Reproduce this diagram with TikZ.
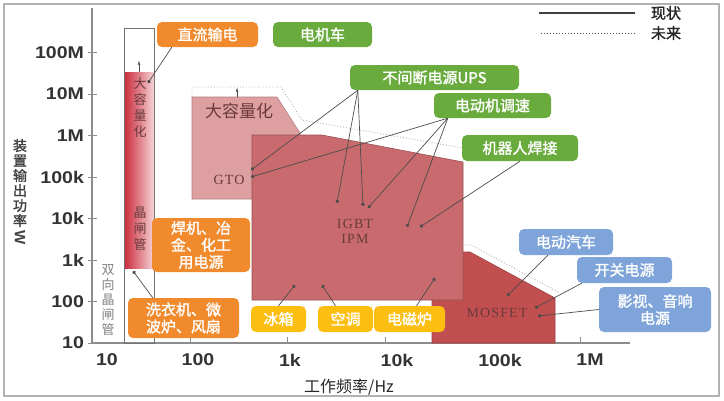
\documentclass[tikz,border=0pt]{standalone}
\usepackage{fontspec}
\setmainfont{Liberation Sans}
\newfontfamily\cjk{Noto Sans CJK SC}[AutoFakeBold=1.5]
\newfontfamily\chartserif{Liberation Serif}[LetterSpace=8]
\usetikzlibrary{arrows.meta}

\definecolor{boxorange}{HTML}{F08A2C}
\definecolor{boxgreen}{HTML}{6AAB3E}
\definecolor{boxyellow}{HTML}{FDBE12}
\definecolor{boxblue}{HTML}{7EA4D9}
\definecolor{gtofill}{HTML}{DE9FA1}
\definecolor{igbtfill}{HTML}{C96B6E}
\definecolor{mosfill}{HTML}{C24F4F}
\definecolor{thydark}{HTML}{C92A3A}
\definecolor{thylight}{HTML}{F6D3D7}
\definecolor{chartink}{HTML}{6B3A3A}
\definecolor{axisgray}{HTML}{8C8C8C}

\begin{document}
\begin{tikzpicture}[x=1pt,y=-1pt,
	appbox/.style={rounded corners=5pt,text=white,align=center,inner sep=0pt,font=\cjk\bfseries\fontsize{15}{17}\selectfont},
	orangebox/.style={appbox,fill=boxorange},
	greenbox/.style={appbox,fill=boxgreen},
	yellowbox/.style={appbox,fill=boxyellow},
	bluebox/.style={appbox,fill=boxblue},
	pointer/.style={draw=black!70,line width=0.7pt,-{Circle[length=3.5pt]}},
	ticklabel/.style={text=black!80,xscale=1.15,font=\bfseries\fontsize{17}{17}\selectfont},
	vtext/.style={align=center,inner sep=0pt,text=chartink,font=\cjk\fontsize{13}{16}\selectfont},
	devlabel/.style={text=chartink,inner sep=0pt,align=center,font=\chartserif\fontsize{14}{15}\selectfont},
	future/.style={draw=gray!60,dotted,line width=0.9pt},
	region/.style={line width=0.6pt}]
	\useasboundingbox (0,0) rectangle (724,400);
	\draw[gray!60,line width=1.5pt] (4,4) rectangle (719,396);

	% axes
	\draw[axisgray,line width=1.2pt] (92,8) -- (92,343) -- (630,343);
	\foreach \y/\lab in {343/10,301.5/100,260/1k,218.5/10k,177/100k,135.5/1M,94/10M,52.5/100M} {
		\draw[axisgray,line width=1pt] (88,\y) -- (97,\y);
		\node[ticklabel,anchor=east] (ylab\lab) at (88,\y) {\lab};
	}
	\foreach \x in {190.4,287.8,385.2,482.6,580}
		\draw[axisgray,line width=1pt] (\x,337) -- (\x,343);
	\foreach \x/\lab in {107/10,198/100,290/1k,397/10k,500/100k,590/1M}
		\node[ticklabel] (xlab\lab) at (\x,360) {\lab};
	\node[text=black!85,font=\cjk\fontsize{16}{16}\selectfont] (xtitle) at (349,387) {工作频率/Hz};
	\node[text=black!75,align=center,inner sep=0pt,font=\cjk\bfseries\fontsize{14}{15}\selectfont] (ytitle) at (20,183) {装\\置\\输\\出\\功\\率};
	\node[text=black!75,rotate=-90,font=\bfseries\fontsize{15}{15}\selectfont] (yunit) at (20,238) {W};

	% device regions
	\filldraw[gtofill,draw=gtofill!80!black,region] (192,97) -- (277,97) -- (300,133) -- (300,199) -- (192,199) -- cycle;
	\filldraw[mosfill,draw=mosfill!80!black,region] (432,252) -- (470,252) -- (555,298) -- (555,343) -- (432,343) -- cycle;
	\filldraw[igbtfill,draw=igbtfill!75!black,region] (252,135) -- (322,135) -- (463,162) -- (463,300) -- (252,300) -- cycle;
	\draw[future] (192,97) -- (192,87) -- (281,87) -- (302,120) -- (463,148);
	\draw[future] (462,245) -- (471,245) -- (560,293);
	\fill[left color=thydark,right color=thylight] (124,72) rectangle (154,268);
	\draw[black!55,line width=0.9pt] (124,28) rectangle (154,343);

	\coordinate (thynow) at (139,72);
	\coordinate (thyfut) at (139,61);
	\draw[black!70,-{Latex[length=3.5pt]}] (thynow) -- (thyfut);
	\coordinate (gtonow) at (237,97);
	\coordinate (gtofut) at (237,88);
	\draw[black!70,-{Latex[length=3.5pt]}] (gtonow) -- (gtofut);

	\node[vtext] (thybig) at (140,108) {大\\容\\量\\化};
	\node[vtext] (thyname) at (140,229) {晶\\闸\\管};
	\node[vtext,text=black!50,font=\cjk\fontsize{13}{15}\selectfont] (triac) at (108,300) {双\\向\\晶\\闸\\管};
	\node[devlabel,font=\cjk\fontsize{17}{17}\selectfont] (gtobig) at (239,111) {大容量化};
	\node[devlabel] (gto) at (229,180) {GTO};
	\node[devlabel] (igbt) at (355,231) {IGBT\\IPM};
	\node[devlabel] (mosfet) at (497,313) {MOSFET};

	% application boxes
	\node[orangebox,minimum width=101pt,minimum height=25pt] (hvdc) at (207.5,34.5) {直流输电};
	\node[greenbox,minimum width=99pt,minimum height=25pt] (loco) at (322.5,34.5) {电机车};
	\node[greenbox,minimum width=169pt,minimum height=25pt] (ups) at (434.5,77.5) {不间断电源UPS};
	\node[greenbox,minimum width=117pt,minimum height=25pt] (motor) at (492.5,105.5) {电动机调速};
	\node[greenbox,minimum width=116pt,minimum height=26pt] (robot) at (520,148) {机器人焊接};
	\node[orangebox,minimum width=98pt,minimum height=54pt] (weld) at (201,245) {焊机、冶\\金、化工\\用电源};
	\node[orangebox,minimum width=111pt,minimum height=40pt] (washer) at (183.5,318) {洗衣机、微\\波炉、风扇};
	\node[yellowbox,minimum width=55pt,minimum height=26pt] (fridge) at (278.5,319) {冰箱};
	\node[yellowbox,minimum width=55pt,minimum height=26pt] (aircon) at (345.5,319) {空调};
	\node[yellowbox,minimum width=71pt,minimum height=26pt] (induct) at (409.5,319) {电磁炉};
	\node[bluebox,minimum width=94pt,minimum height=26pt] (ev) at (566,242) {电动汽车};
	\node[bluebox,minimum width=95pt,minimum height=26pt] (smps) at (624.5,270) {开关电源};
	\node[bluebox,minimum width=112pt,minimum height=45pt] (av) at (655,309.5) {影视、音响\\电源};

	% pointers
	\coordinate (thyA) at (148,83);
	\coordinate (thyB) at (133,271);
	\coordinate (gtoA) at (251,170);
	\coordinate (gtoB) at (251,177);
	\coordinate (igbtA) at (337,203);
	\coordinate (igbtB) at (363,206);
	\coordinate (igbtC) at (368,208);
	\coordinate (igbtD) at (407,227);
	\coordinate (igbtE) at (420,227);
	\coordinate (igbtF) at (295,285);
	\coordinate (igbtG) at (322,285);
	\coordinate (igbtH) at (435,278);
	\coordinate (mosA) at (507,296);
	\coordinate (mosB) at (535,308);
	\coordinate (mosC) at (538,316);
	\draw[pointer] ([xshift=15pt]hvdc.south west) -- (thyA);
	\draw[pointer] ([xshift=25pt]washer.north west) -- (thyB);
	\draw[pointer] ([xshift=8pt]ups.south west) -- (gtoA);
	\draw[pointer] ([xshift=8pt]ups.south west) -- (igbtA);
	\draw[pointer] ([xshift=8pt]ups.south west) -- (igbtB);
	\draw[pointer] ([xshift=14pt]motor.south west) -- (gtoB);
	\draw[pointer] ([xshift=14pt]motor.south west) -- (igbtC);
	\draw[pointer] ([xshift=14pt]motor.south west) -- (igbtD);
	\draw[pointer] (robot.south) -- (igbtE);
	\draw[pointer] (fridge.north) -- (igbtF);
	\draw[pointer] ([xshift=-10pt]aircon.north) -- (igbtG);
	\draw[pointer] ([xshift=7pt]induct.north) -- (igbtH);
	\draw[pointer] ([xshift=29pt]ev.south west) -- (mosA);
	\draw[pointer] ([xshift=5pt]smps.south west) -- (mosB);
	\draw[pointer] (av.west) -- (mosC);

	% legend
	\node[text=black!85,font=\cjk\bfseries\fontsize{15}{15}\selectfont] (legnow) at (666,13) {现状};
	\node[text=black!85,font=\cjk\bfseries\fontsize{15}{15}\selectfont] (legfut) at (666,33) {未来};
	\draw[black!75,line width=1.5pt] ([xshift=-12pt]legnow.west) -- ++(-96,0);
	\draw[black!70,dotted,line width=1pt] ([xshift=-12pt]legfut.west) -- ++(-94,0);
\end{tikzpicture}
\end{document}
